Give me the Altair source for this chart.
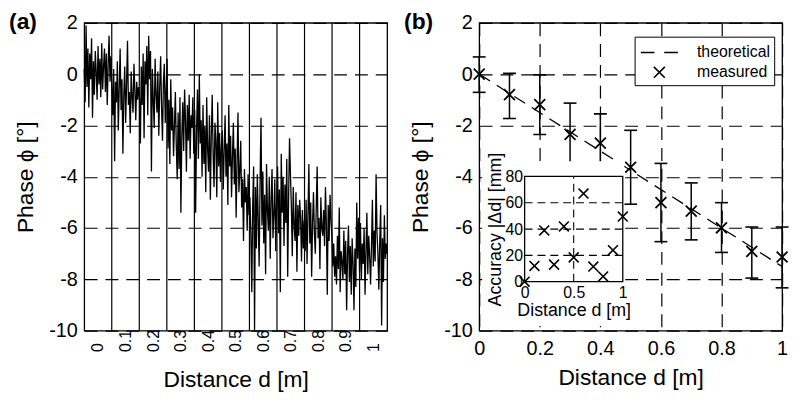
import altair as alt
import numpy as np
import pandas as pd

FONT = "Liberation Sans"

# ---------------- panel (a): measured phase trace (degrees) ----------------
phase_trace = [
    # d ~ -0.05 .. 0.05
    0.2, -1.1, 1.9, -0.5, 1.0, -1.3, 0.8, -0.2, 1.4, -1.7, 0.5, -0.8, 0.9, 0.1, -1.0,
    1.1, -0.4, 0.6, -0.9, 1.2, -0.6, 0.3, 1.0, -0.7, 0.8, -1.2, 0.4, 1.5, -0.3, 0.7,
    # 0.05 .. 0.15
    -0.5, -1.6, 0.2, -3.4, -0.3, -1.1, 0.5, -2.2, -0.6, 1.0, -1.4, -0.2, -3.1, -0.8, 0.3,
    -1.9, -0.4, 1.3, -1.2, -0.7, -2.3, 0.1, -0.9, -1.5, 0.4, -0.6, -1.8, -0.3, -1.0, -0.5,
    # 0.15 .. 0.25
    -0.9, -2.7, 0.3, -1.2, 0.8, -2.5, 0.5, -0.4, 1.1, -1.6, 1.5, -0.2, 0.9, -3.8, 0.2,
    -1.0, -2.1, 0.6, -0.8, -1.5, 0.1, -2.4, -0.5, 0.7, -1.3, -2.6, -0.3, 0.4, -1.9, -0.6,
    # 0.25 .. 0.35
    0.6, -2.9, -1.0, -3.5, -0.2, -2.2, -1.3, -3.2, -2.0, -0.7, -2.8, -4.1, -1.5, -3.7, -0.9,
    -5.4, -2.4, -1.1, -3.0, -0.6, -1.8, -3.8, -1.2, -2.6, -0.8, -3.3, -1.6, -2.1, -0.9, -3.1,
    # 0.35 .. 0.45
    -1.4, -5.4, -2.2, -0.6, -3.3, 0.0, -2.7, -1.8, -4.0, -1.2, -3.5, -2.0, -4.6, -0.9, -2.9,
    -3.8, -1.6, -4.9, -2.4, -0.8, -3.1, -4.4, -1.9, -2.6, -4.8, -1.1, -3.6, -2.3, -4.2, -2.8,
    # 0.45 .. 0.55
    -2.2, -4.5, -3.0, -1.6, -4.0, -2.7, -5.1, -1.2, -3.6, -2.4, -4.8, -3.2, -1.9, -4.3, -2.9,
    -5.6, -3.4, -1.5, -4.6, -3.8, -2.6, -5.2, -4.1, -6.5, -3.7, -5.0, -4.4, -6.1, -3.9, -5.5,
    # 0.55 .. 0.65
    -4.8, -6.3, -8.5, -5.1, -3.6, -10.0, -4.4, -6.8, -3.9, -5.7, -7.5, -4.2, -1.7, -5.9, -3.8,
    -6.6, -4.7, -7.8, -3.5, -5.3, -6.1, -4.0, -7.2, -4.9, -3.7, -6.4, -5.5, -4.1, -6.9, -5.0,
    # 0.65 .. 0.75
    -3.6, -6.2, -4.5, -8.5, -3.1, -5.4, -4.0, -6.7, -4.3, -5.8, -3.3, -7.9, -4.8, -2.5, -3.9,
    -5.2, -7.1, -4.4, -5.9, -6.5, -4.6, -7.7, -5.1, -6.3, -4.9, -5.6, -7.3, -5.3, -6.8, -5.7,
    # 0.75 .. 0.85
    -6.9, -4.9, -7.4, -5.5, -3.5, -6.6, -5.0, -7.9, -5.8, -4.6, -6.2, -7.0, -5.2, -3.6, -6.4,
    -5.6, -7.6, -4.8, -6.0, -6.3, -5.3, -6.7, -4.4, -5.9, -8.6, -5.1, -6.5, -4.7, -5.7, -6.3,
    # 0.85 .. 0.95
    -7.5, -6.6, -7.9, -7.1, -8.2, -6.3, -7.6, -5.2, -8.5, -6.9, -7.3, -8.0, -6.1, -7.8, -6.5,
    -9.2, -7.0, -5.9, -8.1, -6.7, -8.6, -6.4, -7.4, -9.2, -6.8, -8.3, -5.0, -7.2, -5.6, -7.7,
    # 0.95 .. 1.05
    -5.8, -8.0, -6.6, -7.4, -6.0, -8.6, -6.9, -5.4, -7.8, -6.3, -7.1, -8.2, -6.7, -4.9, -7.5,
    -6.1, -7.3, -3.9, -6.2, -7.0, -8.4, -6.5, -5.1, -9.8, -6.4, -8.1, -5.5, -7.2, -6.6, -7.0,
]
trace_start, trace_end = -0.05, 1.05
grid_a = [0.05, 0.15, 0.25, 0.35, 0.45, 0.55, 0.65, 0.75, 0.85, 0.95]
xlabels_a = [0, 0.1, 0.2, 0.3, 0.4, 0.5, 0.6, 0.7, 0.8, 0.9, 1]
yticks = [-10, -8, -6, -4, -2, 0, 2]

# ---------------- panel (b): measured vs theoretical ----------------
dist = [0, 0.1, 0.2, 0.3, 0.4, 0.5, 0.6, 0.7, 0.8, 0.9, 1.0]
phase_meas = [0.0, -0.80, -1.19, -2.35, -2.69, -3.63, -5.01, -5.34, -5.99, -6.91, -7.13]
phase_hi = [0.67, 0.03, -0.03, -1.13, -1.55, -2.19, -3.48, -4.24, -5.01, -5.96, -5.96]
phase_lo = [-0.71, -1.73, -2.35, -3.61, -3.83, -5.07, -6.53, -6.46, -6.95, -7.95, -8.33]
theory_d = [0.0, 1.0]
theory_phi = [0.0, -7.5]
xticks_b = [0, 0.2, 0.4, 0.6, 0.8, 1]

# inset: accuracy |Δd| in mm
acc_mm = [0, 12, 39, 13, 42, 18.5, 67, 11.5, 4, 24, 49.5]
inset_xticks = [0, 0.5, 1]
inset_yticks = [0, 20, 40, 60, 80]
inset_grid_y = [20, 40, 60]
inset_grid_x = [0.5]

# ---------------- layout / style ----------------
W, H = 306, 311
DASH = [13, 8]
LBL = "datum.value + ''"
LEG_DASH = "M-1.7,0L-0.45,0M0.45,0L1.7,0"
XPATH = "M-0.5,-0.5L0.5,0.5M-0.5,0.5L0.5,-0.5"

ys = alt.Scale(domain=[-10, 2], nice=False, zero=False)

ax_y = alt.Axis(values=yticks, labelExpr=LBL, grid=True, gridDash=DASH, gridColor="black",
                gridWidth=1.2, gridOpacity=1, ticks=False, domain=False, labelFontSize=20,
                labelFlush=False, labelBaseline="middle",
                labelPadding=7, title="Phase ϕ [°]", titleFontSize=23, titlePadding=11)

# ---- panel (a)
xs_a = alt.Scale(domain=[trace_start, trace_end], nice=False, zero=False)
ax_xa = alt.Axis(values=xlabels_a, labelExpr=LBL, grid=False, ticks=False, domain=False,
                 labelFlush=False,
                 labelAngle=270, labelAlign="left", labelBaseline="middle", labelPadding=21,
                 labelFontSize=16, title="Distance d [m]", titleFontSize=23, titlePadding=17)

df_a = pd.DataFrame({"d": np.linspace(trace_start, trace_end, len(phase_trace)),
                     "phi": phase_trace})
rules_a = alt.Chart(pd.DataFrame({"d": grid_a})).mark_rule(
    color="black", strokeWidth=1.2).encode(x=alt.X("d:Q", scale=xs_a, axis=ax_xa))
line_a = alt.Chart(df_a).mark_line(color="black", strokeWidth=1.3).encode(
    x=alt.X("d:Q", scale=xs_a, axis=ax_xa),
    y=alt.Y("phi:Q", scale=ys, axis=ax_y))
chart_a = alt.layer(rules_a, line_a).properties(
    width=W, height=H,
    title=alt.TitleParams("(a)", anchor="start", frame="bounds", fontSize=23,
                          fontWeight="bold", offset=-21, dx=-6))

# ---- panel (b)
xs_b = alt.Scale(domain=[0, 1], nice=False, zero=False)
ax_xb = alt.Axis(values=xticks_b, labelExpr=LBL, grid=True, gridDash=DASH, gridColor="black",
                 gridWidth=1.2, gridOpacity=1, ticks=False, domain=False, labelFontSize=20,
                 labelFlush=False,
                 labelPadding=8, title="Distance d [m]", titleFontSize=23, titlePadding=8)

df_b = pd.DataFrame({"d": dist, "phi": phase_meas, "hi": phase_hi, "lo": phase_lo,
                     "series": ["measured"] * len(dist)})
df_t = pd.DataFrame({"d": theory_d, "phi": theory_phi})

X_B = alt.X("d:Q", scale=xs_b, axis=ax_xb)
theory = alt.Chart(df_t).mark_line(color="black", strokeWidth=1.3, strokeDash=DASH).encode(
    x=X_B, y=alt.Y("phi:Q", scale=ys, axis=ax_y))
bars = alt.Chart(df_b).mark_rule(color="black", strokeWidth=1.5).encode(
    x=X_B, y=alt.Y("lo:Q", scale=ys, axis=ax_y), y2="hi:Q")
cap_lo = alt.Chart(df_b).mark_tick(color="black", orient="horizontal", size=13,
                                   thickness=1.6, opacity=1).encode(
    x=X_B, y=alt.Y("lo:Q", scale=ys, axis=ax_y))
cap_hi = alt.Chart(df_b).mark_tick(color="black", orient="horizontal", size=13,
                                   thickness=1.6, opacity=1).encode(
    x=X_B, y=alt.Y("hi:Q", scale=ys, axis=ax_y))
pts = alt.Chart(df_b).mark_point(filled=False, color="black", size=484, strokeWidth=1.8,
                                 opacity=1).encode(
    x=X_B, y=alt.Y("phi:Q", scale=ys, axis=ax_y),
    shape=alt.Shape("series:N",
                    scale=alt.Scale(domain=["theoretical", "measured"], range=[LEG_DASH, XPATH]),
                    legend=alt.Legend(title=None, orient="none", legendX=157, legendY=14,
                                      fillColor="white", strokeColor="black", padding=4,
                                      labelFontSize=16, labelFont=FONT, labelColor="black",
                                      symbolSize=484, symbolStrokeWidth=1.6,
                                      symbolStrokeColor="black",
                                      symbolOffset=9, labelOffset=26,
                                      rowPadding=0, cornerRadius=0)))
main_b = alt.layer(theory, bars, cap_lo, cap_hi, pts)

# ---- inset inside panel (b)
xs_in = alt.Scale(domain=[0, 1], range=[0.15 * W, 0.474 * W], nice=False, zero=False)
ys_in = alt.Scale(domain=[0, 80], range=[0.841 * H, 0.499 * H], nice=False, zero=False)
ax_xin = alt.Axis(orient="bottom", offset=-(H - 0.841 * H), values=inset_xticks, labelExpr=LBL,
                  grid=False, ticks=False, domain=False, labelFontSize=16, labelPadding=3,
                  labelFlush=False,
                  title="Distance d [m]", titleFontSize=18, titlePadding=1, zindex=2)
ax_yin = alt.Axis(orient="left", offset=-(0.15 * W), values=inset_yticks, labelExpr=LBL,
                  grid=False, ticks=False, domain=False, labelFontSize=16, labelPadding=2,
                  labelFlush=False, labelBaseline="middle",
                  title="Accuracy |Δd| [mm]", titleFontSize=18, titlePadding=1, zindex=2)

bg = alt.Chart(pd.DataFrame({"k": [0]})).mark_rect(color="white", opacity=1).encode(
    x=alt.value(3), x2=alt.value(0.479 * W), y=alt.value(0.45 * H), y2=alt.value(0.985 * H))
df_gy = pd.DataFrame({"x0": [0] * len(inset_grid_y), "x1": [1] * len(inset_grid_y),
                      "y": inset_grid_y})
gy = alt.Chart(df_gy).mark_rule(color="black", strokeWidth=1.1, strokeDash=[8, 5]).encode(
    x=alt.X("x0:Q", scale=xs_in, axis=ax_xin), x2="x1:Q",
    y=alt.Y("y:Q", scale=ys_in, axis=ax_yin))
df_gx = pd.DataFrame({"x": inset_grid_x, "y0": [0] * len(inset_grid_x),
                      "y1": [80] * len(inset_grid_x)})
gx = alt.Chart(df_gx).mark_rule(color="black", strokeWidth=1.1, strokeDash=[8, 5]).encode(
    x=alt.X("x:Q", scale=xs_in, axis=ax_xin),
    y=alt.Y("y0:Q", scale=ys_in, axis=ax_yin), y2="y1:Q")
df_frame = pd.DataFrame({"x0": [0], "x1": [1], "y0": [0], "y1": [80]})
frame = alt.Chart(df_frame).mark_rect(fillOpacity=0, stroke="black", strokeWidth=1.3).encode(
    x=alt.X("x0:Q", scale=xs_in, axis=ax_xin), x2="x1:Q",
    y=alt.Y("y0:Q", scale=ys_in, axis=ax_yin), y2="y1:Q")
df_in = pd.DataFrame({"d": dist, "acc": acc_mm})
pts_in = alt.Chart(df_in).mark_point(shape=XPATH, size=400, filled=False, color="black",
                                     strokeWidth=1.6, opacity=1).encode(
    x=alt.X("d:Q", scale=xs_in, axis=ax_xin),
    y=alt.Y("acc:Q", scale=ys_in, axis=ax_yin))
inset = alt.layer(bg, gy, gx, frame, pts_in)

chart_b = alt.layer(main_b, inset).resolve_scale(x="independent", y="independent").properties(
    width=W, height=H,
    title=alt.TitleParams("(b)", anchor="start", frame="bounds", fontSize=23,
                          fontWeight="bold", offset=-21, dx=-6))

chart = alt.hconcat(chart_a, chart_b, spacing=12).resolve_scale(shape="independent").resolve_legend(
    shape="independent").properties(padding=0).configure(font=FONT).configure_view(
    stroke="black", strokeWidth=1.3).configure_axis(
    labelFont=FONT, titleFont=FONT, labelColor="black", titleColor="black",
    titleFontWeight="normal").configure_title(font=FONT, color="black")

chart.save("out.html", embed_options={"renderer": "svg", "actions": False})
